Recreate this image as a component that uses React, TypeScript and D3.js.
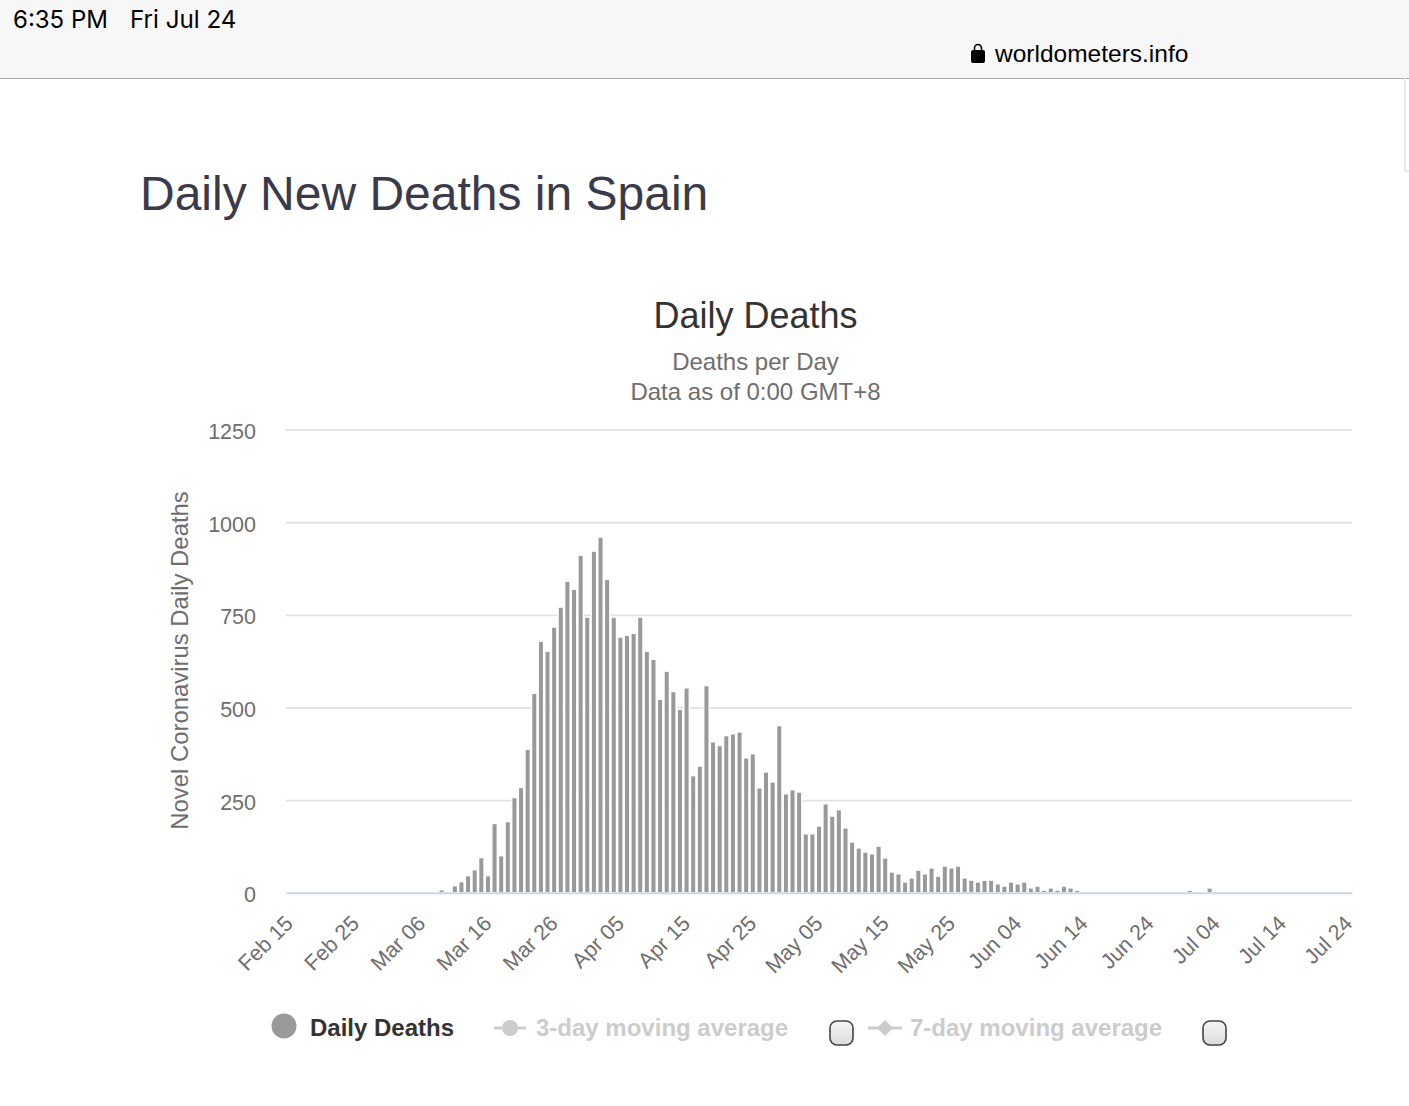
import React, { useEffect, useRef } from "react";
import * as d3 from "d3";

// one entry per day, Feb 15 to Jul 24 2020
const dates = d3.utcDay.range(new Date(Date.UTC(2020, 1, 15)), new Date(Date.UTC(2020, 6, 25)));
const formatDay = d3.utcFormat("%b %d");
const categories = dates.map((d) => formatDay(d));
const tickLabels = ["Feb 15", "Feb 25", "Mar 06", "Mar 16", "Mar 26", "Apr 05", "Apr 15", "Apr 25", "May 05", "May 15", "May 25", "Jun 04", "Jun 14", "Jun 24", "Jul 04", "Jul 14", "Jul 24"];
const yTicks = [0, 250, 500, 750, 1000, 1250];

const dailyDeaths = [
	0, 0, 0, 0, 0, 0, 0, 0, 0, 0, 0, 0, 0, 0, 0, 0, 0, 0, 0, 0, 0, 0, 0,
	6, 0, 17, 28, 44, 60, 93, 44, 185, 98, 190, 255, 282, 385, 536, 677, 650, 715, 769, 839, 817, 909, 742, 920, 958, 844, 742,
	688, 693, 698, 742, 650, 628, 520, 596, 541, 493, 551, 314, 340, 557, 405, 395, 422, 427, 432, 362, 373, 281, 324, 297, 449, 265, 276, 270,
	157, 157, 178, 238, 205, 222, 173, 135, 119, 108, 103, 124, 92, 54, 49, 27, 38, 59, 49, 65, 43, 70, 65, 70,
	38, 32, 27, 32, 32, 22, 16, 27, 22, 27, 11, 16, 5, 11, 5, 16, 11, 5,
	0, 0, 0, 0, 0, 0, 0, 0, 0, 0, 0, 0, 0, 0, 0, 0, 5, 0, 0, 11,
	0, 0, 0, 0, 0, 0, 0, 0, 0, 0, 0, 0, 0, 0, 0, 0, 0, 0, 0, 0, 0,
];

const legendLabels = ["Daily Deaths", "3-day moving average", "7-day moving average"];

const width = 1409;
const height = 1106;
const font = "'Liberation Sans', Arial, sans-serif";

const x = d3.scaleBand<string>().domain(categories).range([286, 1352]);
const y = d3.scaleLinear().domain([0, 1250]).range([892.7, 429.5]);

export default function App() {
	const axisRef = useRef<SVGGElement>(null);
	const gridRef = useRef<SVGGElement>(null);

	useEffect(() => {
		// gridlines + y labels
		const yAxis = d3.axisLeft(y).tickValues(yTicks).tickFormat(d3.format("d") as any).tickSize(-(1352 - 286)).tickPadding(30);
		const g = d3.select(gridRef.current!).attr("transform", "translate(286,0)").call(yAxis as any);
		g.select(".domain").remove();
		g.selectAll("line").attr("stroke", "#e2e2e2").attr("stroke-width", 1.8);
		g.selectAll("text")
			.attr("fill", "#6e6e6e")
			.attr("font-family", font)
			.attr("font-size", 21.5)
			.attr("dy", "0.42em");

		// x axis
		const byLabel = categories.filter((c) => tickLabels.includes(c));
		const xAxis = d3.axisBottom(x).tickValues(byLabel).tickSize(0);
		const a = d3.select(axisRef.current!).attr("transform", "translate(0,892.7)").call(xAxis as any);
		a.select(".domain").attr("stroke", "#ccd6eb").attr("stroke-width", 2);
		a.selectAll("text")
			.attr("fill", "#6e6e6e")
			.attr("font-family", font)
			.attr("font-size", 21.5)
			.attr("text-anchor", "end")
			.attr("dy", 0)
			.attr("y", 0)
			.attr("transform", "translate(5,32) rotate(-45)");
	}, []);

	return (
		<svg width={width} height={height} style={{ position: "absolute", left: 0, top: 0, display: "block" }} fontFamily={font}>
			<defs>
				<linearGradient id="boxFill" x1="0" y1="0" x2="0" y2="1">
					<stop offset="0%" stopColor="#f6f6f6" />
					<stop offset="100%" stopColor="#dcdcdc" />
				</linearGradient>
			</defs>
			<rect width={width} height={height} fill="#fff" />

			{/* browser chrome */}
			<rect width={width} height={78} fill="#f7f7f7" />
			<line x1={0} x2={width} y1={78.5} y2={78.5} stroke="#a9a9a9" />
			<text x={13} y={28} fontSize={24} fontFamily="Inter" fill="#000">6:35 PM</text>
			<text x={130} y={28} fontSize={24.2} fontFamily="Inter" fill="#000">Fri Jul 24</text>
			<path d="M973 50h10a2 2 0 0 1 2 2v9a2 2 0 0 1-2 2h-10a2 2 0 0 1-2-2v-9a2 2 0 0 1 2-2z" fill="#000" />
			<path d="M974.5 50v-2a3.5 3.5 0 0 1 7 0v2" fill="none" stroke="#000" strokeWidth={1.6} />
			<text x={995} y={62} fontSize={24.5} fill="#000">worldometers.info</text>
			<path d="M1409 171h-4V78" fill="none" stroke="#e6e6e6" strokeWidth={1.5} />

			<text x={140} y={210} fontSize={48} fill="#3a3b4a">Daily New Deaths in Spain</text>

			<text x={755.5} y={328} textAnchor="middle" fontSize={36} fill="#333333">Daily Deaths</text>
			<text x={755.5} y={370} textAnchor="middle" fontSize={24} fill="#6e6e6e">Deaths per Day</text>
			<text x={755.5} y={400} textAnchor="middle" fontSize={24} fill="#6e6e6e">Data as of 0:00 GMT+8</text>

			<text transform="translate(187.5,660.5) rotate(-90)" textAnchor="middle" fontSize={23.9} fill="#6e6e6e">Novel Coronavirus Daily Deaths</text>

			<g ref={gridRef} />
			<g>
				{dailyDeaths.map((v, i) => (
					<rect
						key={categories[i]}
						x={x(categories[i])! + 0.65}
						y={y(v) - 0.65}
						width={x.bandwidth() - 1.3}
						height={y(0) - y(v) + 0.65}
						fill="#999999"
						stroke="#ffffff"
						strokeWidth={1.3}
					/>
				))}
			</g>
			<g ref={axisRef} />

			{/* legend */}
			<circle cx={284} cy={1026} r={12.5} fill="#999999" />
			<text x={310} y={1036} fontSize={24} fontWeight="bold" fill="#333333">{legendLabels[0]}</text>

			<line x1={494} x2={526} y1={1028} y2={1028} stroke="#cccccc" strokeWidth={3} />
			<circle cx={510} cy={1028} r={8} fill="#cccccc" />
			<text x={536} y={1036} fontSize={24} fontWeight="bold" fill="#cccccc">{legendLabels[1]}</text>
			<rect x={830} y={1021} width={23} height={24} rx={7} fill="url(#boxFill)" stroke="#444444" strokeWidth={1.6} />

			<line x1={868} x2={902} y1={1028} y2={1028} stroke="#cccccc" strokeWidth={3} />
			<path d={d3.symbol(d3.symbolSquare, 130)() as string} transform="translate(885,1028) rotate(45)" fill="#cccccc" />
			<text x={910} y={1036} fontSize={24} fontWeight="bold" fill="#cccccc">{legendLabels[2]}</text>
			<rect x={1203} y={1021} width={23} height={24} rx={7} fill="url(#boxFill)" stroke="#444444" strokeWidth={1.6} />
		</svg>
	);
}
